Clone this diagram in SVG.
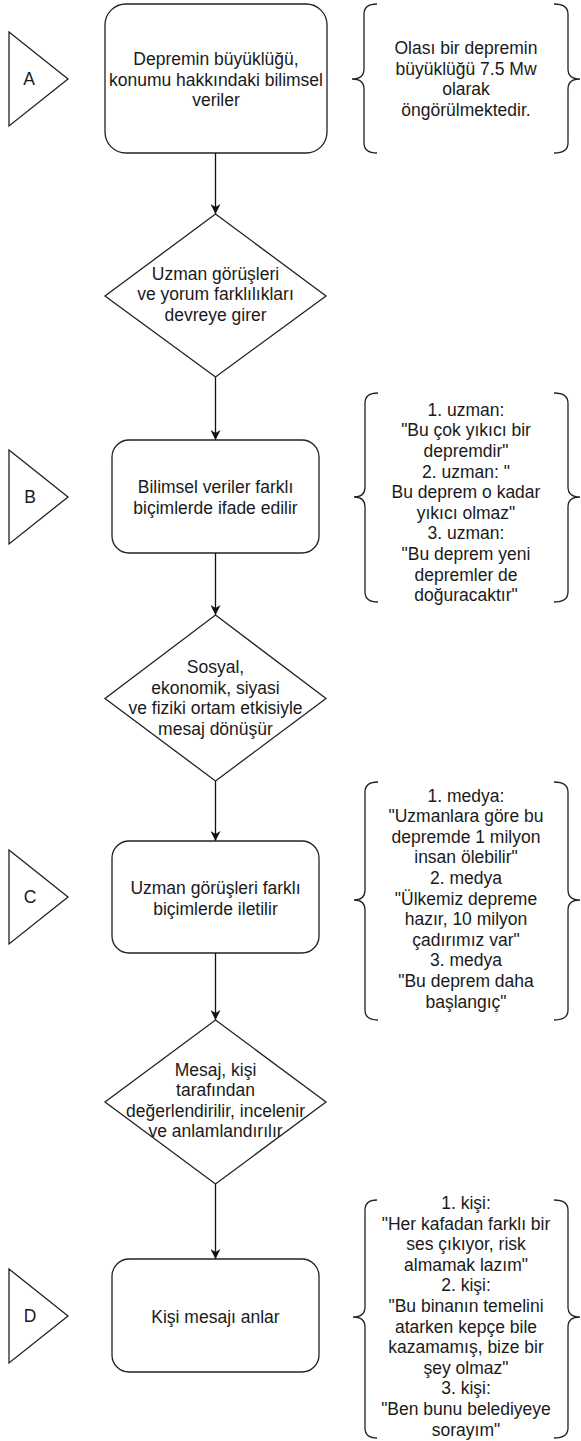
<svg xmlns="http://www.w3.org/2000/svg" width="581" height="1441" viewBox="0 0 581 1441">
<defs>
<style>
.shape{fill:#fff;stroke:#222;stroke-width:1.3}
.brace{fill:none;stroke:#222;stroke-width:1.3}
.edge{fill:none;stroke:#111;stroke-width:1.3}
text{font-family:"Liberation Sans",Arial,Helvetica,sans-serif;font-size:17.5px;fill:#1a1a1a;text-anchor:middle}
</style>
<marker id="arr" viewBox="0 0 10 10" refX="10" refY="5" markerWidth="10" markerHeight="10" markerUnits="userSpaceOnUse" orient="auto">
<path d="M0,0 L10,5 L0,10 L3,5 Z" fill="#111"/>
</marker>
</defs>
<rect width="581" height="1441" fill="#fff"/>

<g id="connectors">
<line class="edge" x1="215.5" y1="153" x2="215.5" y2="214" marker-end="url(#arr)"/>
<line class="edge" x1="215.5" y1="377" x2="215.5" y2="440" marker-end="url(#arr)"/>
<line class="edge" x1="215.5" y1="553" x2="215.5" y2="615" marker-end="url(#arr)"/>
<line class="edge" x1="215.5" y1="781" x2="215.5" y2="841" marker-end="url(#arr)"/>
<line class="edge" x1="215.5" y1="953" x2="215.5" y2="1020" marker-end="url(#arr)"/>
<line class="edge" x1="215.5" y1="1184" x2="215.5" y2="1259" marker-end="url(#arr)"/>
</g>

<g id="triA"><path class="shape" d="M9,32 L68,79 L9,126 Z"/><text x="29" y="85">A</text></g>
<g id="triB"><path class="shape" d="M9,450 L68,497 L9,544 Z"/><text x="30" y="503">B</text></g>
<g id="triC"><path class="shape" d="M9,850 L68,897 L9,944 Z"/><text x="30" y="903">C</text></g>
<g id="triD"><path class="shape" d="M9,1269 L68,1316 L9,1363 Z"/><text x="30" y="1322">D</text></g>

<g id="box1">
<rect class="shape" x="105" y="4" width="222" height="149" rx="21" ry="21"/>
<text><tspan x="216" y="65">Depremin büyüklüğü,</tspan><tspan x="216" y="85.6">konumu hakkındaki bilimsel</tspan><tspan x="216" y="106.2">veriler</tspan></text>
</g>

<g id="brace1">
<path class="brace" d="M377,4 Q364,4 364,14 L364,69 Q364,79 352,79 Q364,79 364,89 L364,143 Q364,153 377,153"/>
<path class="brace" d="M554,4 Q568,4 568,14 L568,69 Q568,79 580,79 Q568,79 568,89 L568,143 Q568,153 554,153"/>
<text><tspan x="466" y="54.2">Olası bir depremin</tspan><tspan x="466" y="74.8">büyüklüğü 7.5 Mw</tspan><tspan x="466" y="95.4">olarak</tspan><tspan x="466" y="116">öngörülmektedir.</tspan></text>
</g>

<g id="diamond1">
<path class="shape" d="M215.5,214 L326,296 L215.5,377 L105,296 Z"/>
<text><tspan x="215.5" y="279.5">Uzman görüşleri</tspan><tspan x="215.5" y="300.1">ve yorum farklılıkları</tspan><tspan x="215.5" y="320.7">devreye girer</tspan></text>
</g>

<g id="boxB">
<rect class="shape" x="112" y="440" width="207" height="113" rx="17" ry="17"/>
<text><tspan x="215.5" y="493.2">Bilimsel veriler farklı</tspan><tspan x="215.5" y="513.8">biçimlerde ifade edilir</tspan></text>
</g>

<g id="braceB">
<path class="brace" d="M378,393 Q365,393 365,403 L365,487 Q365,497 354,497 Q365,497 365,507 L365,592 Q365,602 378,602"/>
<path class="brace" d="M554,393 Q568,393 568,403 L568,487 Q568,497 580,497 Q568,497 568,507 L568,592 Q568,602 554,602"/>
<text><tspan x="466" y="415.8">1. uzman:</tspan><tspan x="466" y="436.4">"Bu çok yıkıcı bir</tspan><tspan x="466" y="457">depremdir"</tspan><tspan x="466" y="477.6">2. uzman: "</tspan><tspan x="466" y="498.2">Bu deprem o kadar</tspan><tspan x="466" y="518.8">yıkıcı olmaz"</tspan><tspan x="466" y="539.4">3. uzman:</tspan><tspan x="466" y="560">"Bu deprem yeni</tspan><tspan x="466" y="580.6">depremler de</tspan><tspan x="466" y="601.2">doğuracaktır"</tspan></text>
</g>

<g id="diamond2">
<path class="shape" d="M215.5,615 L326,698.5 L215.5,781 L105,698.5 Z"/>
<text><tspan x="215.5" y="673">Sosyal,</tspan><tspan x="215.5" y="693.6">ekonomik, siyasi</tspan><tspan x="215.5" y="714.2">ve fiziki ortam etkisiyle</tspan><tspan x="215.5" y="734.8">mesaj dönüşür</tspan></text>
</g>

<g id="boxC">
<rect class="shape" x="112" y="841" width="207" height="112" rx="17" ry="17"/>
<text><tspan x="215.5" y="894">Uzman görüşleri farklı</tspan><tspan x="215.5" y="914.6">biçimlerde iletilir</tspan></text>
</g>

<g id="braceC">
<path class="brace" d="M378,782 Q365,782 365,792 L365,890 Q365,900 354,900 Q365,900 365,910 L365,1010 Q365,1020 378,1020"/>
<path class="brace" d="M554,782 Q568,782 568,792 L568,890 Q568,900 580,900 Q568,900 568,910 L568,1010 Q568,1020 554,1020"/>
<text><tspan x="466" y="801.5">1. medya:</tspan><tspan x="466" y="822.1">"Uzmanlara göre bu</tspan><tspan x="466" y="842.7">depremde 1 milyon</tspan><tspan x="466" y="863.3">insan ölebilir"</tspan><tspan x="466" y="883.9">2. medya</tspan><tspan x="466" y="904.5">"Ülkemiz depreme</tspan><tspan x="466" y="925.1">hazır, 10 milyon</tspan><tspan x="466" y="945.7">çadırımız var"</tspan><tspan x="466" y="966.3">3. medya</tspan><tspan x="466" y="986.9">"Bu deprem daha</tspan><tspan x="466" y="1007.5">başlangıç"</tspan></text>
</g>

<g id="diamond3">
<path class="shape" d="M215.5,1020 L326,1102 L215.5,1184 L105,1102 Z"/>
<text><tspan x="215.5" y="1075.6">Mesaj, kişi</tspan><tspan x="215.5" y="1096.2">tarafından</tspan><tspan x="215.5" y="1116.8">değerlendirilir, incelenir</tspan><tspan x="215.5" y="1137.4">ve anlamlandırılır</tspan></text>
</g>

<g id="boxD">
<rect class="shape" x="112" y="1259" width="207" height="113" rx="17" ry="17"/>
<text x="215.5" y="1323">Kişi mesajı anlar</text>
</g>

<g id="braceD">
<path class="brace" d="M377,1200 Q365,1200 365,1210 L365,1307 Q365,1317 353,1317 Q365,1317 365,1327 L365,1428 Q365,1438 377,1438"/>
<path class="brace" d="M554,1200 Q568,1200 568,1210 L568,1307 Q568,1317 580,1317 Q568,1317 568,1327 L568,1428 Q568,1438 554,1438"/>
<text><tspan x="466" y="1209">1. kişi:</tspan><tspan x="466" y="1229.6">"Her kafadan farklı bir</tspan><tspan x="466" y="1250.2">ses çıkıyor, risk</tspan><tspan x="466" y="1270.8">almamak lazım"</tspan><tspan x="466" y="1291.4">2. kişi:</tspan><tspan x="466" y="1312">"Bu binanın temelini</tspan><tspan x="466" y="1332.6">atarken kepçe bile</tspan><tspan x="466" y="1353.2">kazamamış, bize bir</tspan><tspan x="466" y="1373.8">şey olmaz"</tspan><tspan x="466" y="1394.4">3. kişi:</tspan><tspan x="466" y="1415">"Ben bunu belediyeye</tspan><tspan x="466" y="1435.6">sorayım"</tspan></text>
</g>
</svg>
